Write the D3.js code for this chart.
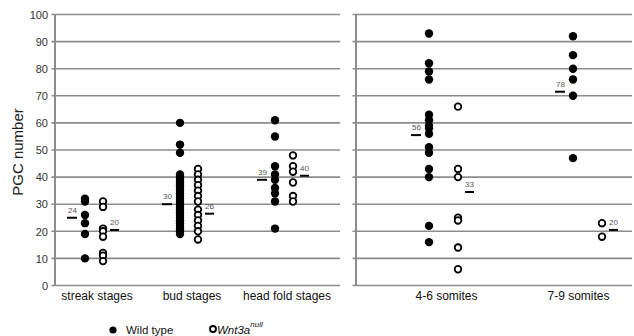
<!DOCTYPE html>
<html lang="en">
<head>
<meta charset="UTF-8">
<title>PGC number</title>
<script src="https://d3js.org/d3.v7.min.js"></script>
<style>
  body { margin: 0; background: #fff; }
  svg { font-family: "Liberation Sans", Arial, sans-serif; }
  .grid line { stroke: #8c8c8c; stroke-width: 1.6px; }
  .tick text { font-size: 11px; fill: #333; }
  .cat { font-size: 12px; fill: #111; }
  .mean { stroke: #000; stroke-width: 2px; }
  .meanlab { font-size: 8px; fill: #555; }
</style>
</head>
<body>
<div id="chart"></div>
<script>
const leftCats = ["streak stages", "bud stages", "head fold stages"];
const rightCats = ["4-6 somites", "7-9 somites"];
const categories = leftCats.concat(rightCats);

const wildType = [
  [32, 31, 26, 23, 19, 10],
  [60, 52, 49, 41, 40, 39, 38, 37, 36, 35, 34, 33, 32, 31, 30, 29, 28, 27, 26, 25, 24, 23, 22, 21, 20, 19],
  [61, 55, 44, 41, 39, 36, 34, 31, 21],
  [93, 82, 79, 76, 63, 61, 59, 58, 56, 51, 49, 43, 40, 22, 16],
  [92, 85, 80, 76, 70, 47]
];
const wnt3aNull = [
  [31, 29, 21, 20, 18, 12, 11, 9],
  [43, 41, 39, 37, 35, 33, 31, 28, 26, 24, 22, 20, 17],
  [48, 44, 42, 38, 33, 31],
  [66, 43, 40, 25, 24, 14, 6],
  [23, 18]
];
// mean labels and where the mean bars sit in the figure
const meanWT = [24, 30, 39, 56, 78];
const meanWTAt = [25, 30, 39, 55.5, 71.5];
const meanNull = [20, 26, 40, 33, 20];
const meanNullAt = [20.5, 26.5, 40.5, 34.5, 20.5];
const yTicks = [0, 10, 20, 30, 40, 50, 60, 70, 80, 90, 100];

const width = 634, height = 336;
const svg = d3.select("#chart").append("svg")
  .attr("width", width).attr("height", height);

const y = d3.scaleLinear().domain([0, 100]).range([285.5, 14.5]);

const panels = [
  { cats: leftCats, x0: 55, x1: 340, centers: [94, 284], off: 9, labels: true },
  { cats: rightCats, x0: 356, x1: 632, centers: [443.5, 587.5], off: 14.5, labels: false }
];

panels.forEach(p => {
  const g = svg.append("g");
  const x = d3.scalePoint().domain(p.cats).range(p.centers);

  // gridlines
  g.append("g").attr("class", "grid")
    .selectAll("line").data(yTicks).join("line")
    .attr("x1", p.x0 - 3.5).attr("x2", p.x1)
    .attr("y1", d => y(d)).attr("y2", d => y(d));

  g.append("line")
    .attr("x1", p.x0).attr("x2", p.x0)
    .attr("y1", y(100)).attr("y2", y(0))
    .attr("stroke", "#8c8c8c").attr("stroke-width", 2);

  if (p.labels) {
    const ax = g.append("g").attr("transform", `translate(${p.x0 - 3},0)`)
      .call(d3.axisLeft(y).tickValues(yTicks).tickSize(0).tickPadding(4));
    ax.select(".domain").remove();
    ax.selectAll("text").attr("dy", "0.34em");
  }

  p.cats.forEach(c => {
    const i = categories.indexOf(c);
    const cx = x(c);
    const xw = cx - p.off, xn = cx + p.off;

    g.append("text").attr("class", "cat")
      .attr("x", cx + (i === 4 ? -9 : 3)).attr("y", 300)
      .attr("text-anchor", "middle").text(c);

    g.selectAll(null).data(wildType[i]).join("circle")
      .attr("cx", xw).attr("cy", d => y(d)).attr("r", 4.2).attr("fill", "#000");
    g.selectAll(null).data(wnt3aNull[i]).join("circle")
      .attr("cx", xn).attr("cy", d => y(d)).attr("r", 3.3)
      .attr("fill", "#fff").attr("stroke", "#000").attr("stroke-width", 1.8);

    g.append("line").attr("class", "mean")
      .attr("x1", xw - 18).attr("x2", xw - 8)
      .attr("y1", y(meanWTAt[i])).attr("y2", y(meanWTAt[i]));
    g.append("text").attr("class", "meanlab")
      .attr("x", xw - 8).attr("y", y(meanWTAt[i]) - 5)
      .attr("text-anchor", "end").text(meanWT[i]);

    g.append("line").attr("class", "mean")
      .attr("x1", xn + 7).attr("x2", xn + 16)
      .attr("y1", y(meanNullAt[i])).attr("y2", y(meanNullAt[i]));
    g.append("text").attr("class", "meanlab")
      .attr("x", xn + 7).attr("y", y(meanNullAt[i]) - 5)
      .text(meanNull[i]);
  });
});

svg.append("text")
  .attr("transform", "translate(23,152) rotate(-90)")
  .attr("text-anchor", "middle")
  .attr("font-size", 15).attr("fill", "#222")
  .text("PGC number");

// legend
const lg = svg.append("g").attr("font-size", 11.5);
lg.append("circle").attr("cx", 113).attr("cy", 330).attr("r", 3.6).attr("fill", "#000");
lg.append("text").attr("x", 126).attr("y", 334).attr("fill", "#111").text("Wild type");
lg.append("circle").attr("cx", 213).attr("cy", 329).attr("r", 3)
  .attr("fill", "#fff").attr("stroke", "#000").attr("stroke-width", 1.8);
const lt = lg.append("text").attr("x", 217).attr("y", 334)
  .attr("fill", "#111").attr("font-style", "italic");
lt.append("tspan").text("Wnt3a");
lt.append("tspan").attr("dy", -7).attr("font-size", 8).text("null");
</script>
</body>
</html>
